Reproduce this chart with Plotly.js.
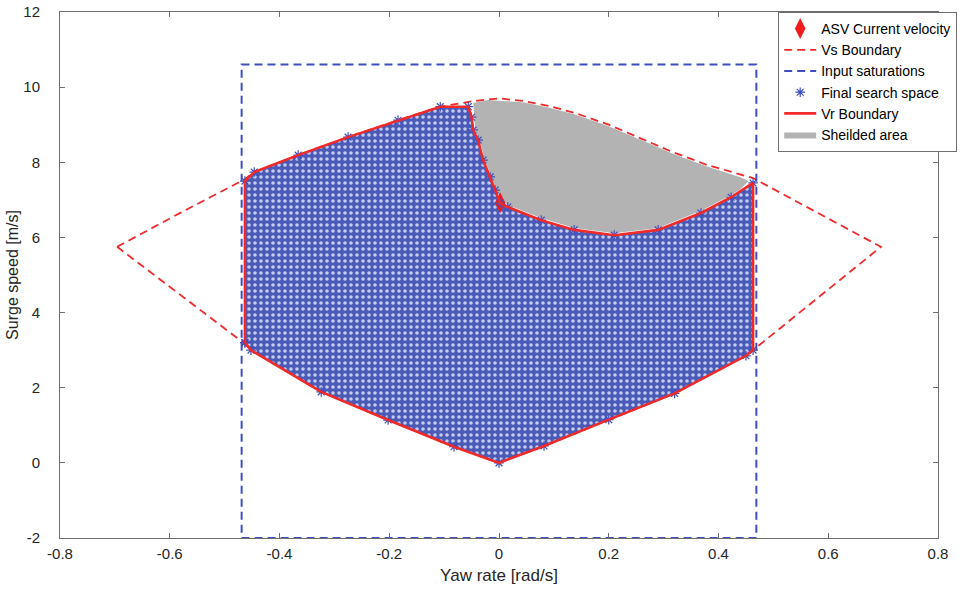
<!DOCTYPE html>
<html>
<head>
<meta charset="utf-8">
<script src="https://cdn.plot.ly/plotly-3.0.1.min.js"></script>
<style>html,body{margin:0;padding:0;background:#fff;}#chart{width:971px;height:594px;}</style>
</head>
<body>
<div id="chart"></div>
<script>
// ASV current velocity
var asvX = [0.002];
var asvY = [6.92];

// Vs boundary (dashed red, closed)
var vsX = [-0.696,-0.58,-0.463,-0.446,-0.366,-0.275,-0.184,-0.107,-0.046,0,0.046,0.09,0.137,0.2,0.259,0.317,0.379,0.463,0.58,0.696,
           0.463,0.45,0.32,0.2,0.082,0,-0.082,-0.202,-0.324,-0.452,-0.466,-0.696];
var vsY = [5.75,6.66,7.55,7.74,8.19,8.67,9.12,9.48,9.63,9.7,9.63,9.5,9.32,9.0,8.63,8.27,7.93,7.58,6.66,5.75,
           3.0,2.85,1.85,1.15,0.45,0,0.43,1.14,1.89,3.0,3.2,5.75];

// Input saturations (dashed blue rectangle)
var satX = [-0.469,0.469,0.469,-0.469,-0.469];
var satY = [-2,-2,10.6,10.6,-2];

// Vr boundary (solid red, closed)
var vrX = [-0.463,-0.463,-0.446,-0.366,-0.275,-0.184,-0.107,-0.056,-0.05,-0.047,-0.038,-0.029,-0.016,-0.007,0.002,
           0.016,0.077,0.137,0.21,0.29,0.368,0.423,0.463,0.463,0.45,0.32,0.2,0.082,0,-0.082,-0.202,-0.324,-0.452,-0.463];
var vrY = [3.2,7.5,7.74,8.19,8.67,9.12,9.48,9.48,9.2,8.86,8.59,8.06,7.61,7.26,6.91,
           6.81,6.46,6.2,6.06,6.2,6.65,7.07,7.45,3.0,2.85,1.85,1.15,0.45,0,0.43,1.14,1.89,3.0,3.2];

// Final search space (region enclosed by the Vr boundary, outside the shielded area)
var ssX = vrX;
var ssY = vrY;

// Shielded area (gray)
var shX = [-0.047,-0.02,0.046,0.09,0.137,0.2,0.259,0.317,0.379,0.44,0.455,0.44,0.423,0.368,0.29,0.21,0.137,0.077,0.016,0.004,-0.004,-0.013,-0.026,-0.035,-0.043,-0.045,-0.047];
var shY = [9.58,9.66,9.59,9.46,9.28,8.96,8.59,8.23,7.89,7.6,7.5,7.28,7.12,6.71,6.25,6.11,6.25,6.52,6.86,7.0,7.26,7.61,8.06,8.59,8.86,9.2,9.58];

// Axis ticks
var xTickVals = [-0.8,-0.6,-0.4,-0.2,0,0.2,0.4,0.6,0.8];
var xTickText = ['-0.8','-0.6','-0.4','-0.2','0','0.2','0.4','0.6','0.8'];
var yTickVals = [-2,0,2,4,6,8,10,12];
var yTickText = ['-2','0','2','4','6','8','10','12'];

var RED = '#ee2a2a';
var BLUE = '#3d4fbf';
var FONT = 'Liberation Sans, Arial, sans-serif';

var traces = [
  {x: ssX, y: ssY, type: 'scatter', mode: 'none', fill: 'toself', showlegend: false, hoverinfo: 'skip',
   fillcolor: '#4a5ab7',
   fillpattern: {shape: '.', fgcolor: '#c6ccef', bgcolor: '#4a5ab7', size: 6, solidity: 0.28, fillmode: 'replace'}},
  {x: shX, y: shY, type: 'scatter', mode: 'lines', fill: 'toself', name: 'Sheilded area', legendrank: 6,
   fillcolor: '#b3b3b3', line: {width: 0, color: '#b3b3b3'}},
  {x: asvX, y: asvY, type: 'scatter', mode: 'markers', name: 'ASV Current velocity', legendrank: 1,
   marker: {symbol: 'diamond-tall', size: 15, color: '#f01c1c'}},
  {x: vsX, y: vsY, type: 'scatter', mode: 'lines', name: 'Vs Boundary', legendrank: 2,
   line: {color: RED, width: 1.8, dash: '8px,5px'}},
  {x: satX, y: satY, type: 'scatter', mode: 'lines', name: 'Input saturations', legendrank: 3, cliponaxis: false,
   line: {color: BLUE, width: 2, dash: '8px,5px'}},
  {x: ssX, y: ssY, type: 'scatter', mode: 'markers', name: 'Final search space', legendrank: 4,
   marker: {symbol: 'asterisk-open', size: 8, color: BLUE, line: {color: BLUE, width: 1.2}}},
  {x: vrX, y: vrY, type: 'scatter', mode: 'lines', name: 'Vr Boundary', legendrank: 5,
   line: {color: RED, width: 2.6}}
];

var axisCommon = {
  showgrid: false, zeroline: false, showline: true, linecolor: '#6f6f6f', linewidth: 1,
  mirror: 'ticks', ticks: 'inside', ticklen: 5, tickcolor: '#6f6f6f', tickwidth: 1,
  tickfont: {family: FONT, size: 15, color: '#262626'}
};

var layout = {
  width: 971, height: 594,
  margin: {l: 60, r: 33, t: 12, b: 56, pad: 0},
  paper_bgcolor: '#ffffff', plot_bgcolor: '#ffffff',
  showlegend: true,
  xaxis: Object.assign({}, axisCommon, {
    range: [-0.8, 0.8], tickmode: 'array', tickvals: xTickVals, ticktext: xTickText,
    ticklabelstandoff: 2, automargin: false,
    title: {text: 'Yaw rate [rad/s]', font: {family: FONT, size: 17, color: '#262626'}, standoff: 8}
  }),
  yaxis: Object.assign({}, axisCommon, {
    range: [-2, 12], tickmode: 'array', tickvals: yTickVals, ticktext: yTickText,
    ticklabelstandoff: 16, automargin: false,
    title: {text: 'Surge speed [m/s]', font: {family: FONT, size: 16, color: '#262626'}, standoff: 0}
  }),
  legend: {
    x: 0.818, y: 1.0, xanchor: 'left', yanchor: 'top',
    bgcolor: '#ffffff', bordercolor: '#6f6f6f', borderwidth: 1,
    font: {family: FONT, size: 14, color: '#000000'},
    itemwidth: 32, tracegroupgap: 0
  }
};

Plotly.newPlot('chart', traces, layout, {displayModeBar: false, staticPlot: true});
</script>
</body>
</html>
